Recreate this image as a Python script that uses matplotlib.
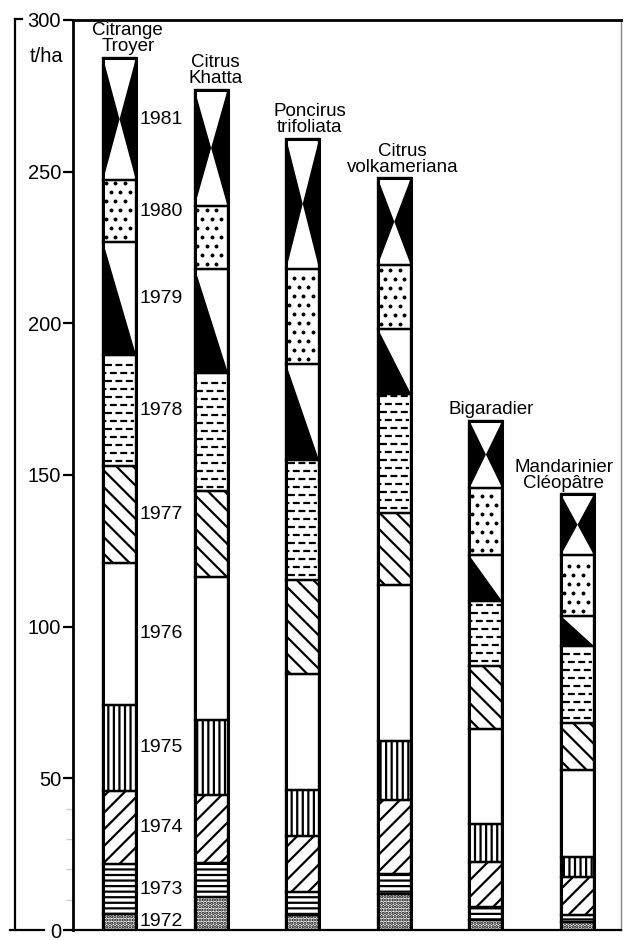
import matplotlib.pyplot as plt
import numpy as np
from matplotlib.lines import Line2D

plt.rcParams['font.family'] = ['Liberation Sans', 'DejaVu Sans']
plt.rcParams['hatch.linewidth'] = 1.6
plt.rcParams['lines.scale_dashes'] = False

# porte-greffes (rootstocks)
rootstocks = ['Citrange\nTroyer', 'Citrus\nKhatta', 'Poncirus\ntrifoliata',
              'Citrus\nvolkameriana', 'Bigaradier', 'Mandarinier\nCléopâtre']
years = [1972, 1973, 1974, 1975, 1976, 1977, 1978, 1979, 1980, 1981]

# récolte annuelle en t/ha, 1972 -> 1981
troyer = [5.3, 16.4, 24.0, 28.6, 46.6, 32.2, 36.5, 37.1, 20.4, 40.4]
khatta = [10.8, 11.2, 22.4, 24.9, 47.0, 28.3, 39.1, 34.2, 20.7, 38.4]
poncirus = [4.9, 7.6, 18.4, 15.1, 38.5, 30.8, 39.8, 31.6, 31.2, 43.0]
volkameriana = [11.8, 6.6, 24.3, 19.7, 51.3, 23.7, 39.4, 21.4, 21.0, 28.6]
bigaradier = [3.3, 4.3, 14.7, 12.5, 31.3, 21.0, 21.3, 15.2, 22.0, 22.3]
cleopatre = [2.6, 2.3, 12.5, 6.6, 28.9, 15.5, 25.3, 9.8, 20.1, 20.0]

yticks = [0, 50, 100, 150, 200, 250, 300]

# motif de chaque année
patterns = {1972: 'stipple', 1973: 'hlines', 1974: 'fwd', 1975: 'vlines',
            1976: 'blank', 1977: 'back', 1978: 'dash', 1979: 'wedge',
            1980: 'dots', 1981: 'hourglass'}
hatches = {'stipple': '.....', 'hlines': '---', 'fwd': '//', 'vlines': '|||',
           'back': '\\\\'}

Y0 = 930   # pixel du zéro
Y300 = 20  # pixel du 300

fig = plt.figure(figsize=(6.25, 9.4), dpi=100)
ax = fig.add_axes([73 / 625, 1 - Y0 / 940, (621 - 73) / 625, (Y0 - Y300) / 940])
ax.set_xlim(-0.508, 5.475)
ax.set_ylim(0, 300)

W = 0.36
px_x = 91.6   # pixels par unité x
px_y = (Y0 - Y300) / 300.0


def draw_dots(x0, x1, y0, y1):
    sx = 9.5 / px_x
    sy = 9.0 / px_y
    rows = np.arange(y0 + 0.55 * sy, y1 - 0.3 * sy, sy)
    xs_all, ys_all = [], []
    for k, yy in enumerate(rows):
        start = x0 + (0.3 if k % 2 == 0 else 0.8) * sx
        xs = np.arange(start, x1 - 0.2 * sx, sx)
        xs_all.extend(xs)
        ys_all.extend([yy] * len(xs))
    ax.scatter(xs_all, ys_all, s=8, color='black', zorder=3, linewidths=0)


def draw_dashes(x0, x1, y0, y1):
    sy = 8.0 / px_y
    rows = np.arange(y0 + 0.6 * sy, y1 - 0.3 * sy, sy)
    for k, yy in enumerate(rows):
        off = 0 if k % 2 == 0 else 4
        ax.plot([x0 + 0.02, x1 - 0.02], [yy, yy], color='black', lw=1.6,
                ls=(off, (5, 2.5)), solid_capstyle='butt', zorder=3)


series = [troyer, khatta, poncirus, volkameriana, bigaradier, cleopatre]
name_shift = [6, 3, 5, 6, 4, -10]

for i, vals in enumerate(series):
    bottoms = np.concatenate([[0], np.cumsum(vals)[:-1]])
    x0, x1 = i - W / 2, i + W / 2
    for yr, v, b in zip(years, vals, bottoms):
        kind = patterns[yr]
        ax.bar(i, v, bottom=b, width=W, color='white', edgecolor='black',
               lw=1.5, hatch=hatches.get(kind), zorder=2)
        top = b + v
        if kind == 'hourglass':
            mid = b + v / 2
            ax.fill([x0, x0, i], [b, top, mid], color='black', zorder=3, lw=0)
            ax.fill([x1, x1, i], [b, top, mid], color='black', zorder=3, lw=0)
        elif kind == 'wedge':
            ax.fill([x0, x0, x1], [top, b, b], color='black', zorder=3, lw=0)
        elif kind == 'dots':
            draw_dots(x0, x1, b, top)
        elif kind == 'dash':
            draw_dashes(x0, x1, b, top)
    # contours
    ax.bar(i, vals, bottom=bottoms, width=W, fill=False, edgecolor='black',
           lw=1.6, zorder=4)
    ax.bar(i, sum(vals), width=W, fill=False, edgecolor='black', lw=2.2, zorder=5)
    ax.annotate(rootstocks[i], (i, sum(vals)), xytext=(name_shift[i], 2),
                textcoords='offset points', ha='center', va='bottom',
                fontsize=13.5, linespacing=0.9)

# années à droite de la première colonne
b0 = np.concatenate([[0], np.cumsum(troyer)[:-1]])
for yr, v, b in zip(years, troyer, b0):
    ax.text(W / 2 + 0.035, b + v / 2, str(yr), ha='left', va='center',
            fontsize=14)

ax.set_xticks([])
ax.set_yticks(yticks)
ax.set_yticklabels([str(t) for t in yticks])
ax.set_yticks([10, 20, 30, 40], minor=True)
ax.tick_params(axis='y', which='major', length=7, width=1.6, pad=1.5,
               labelsize=14.5, direction='out')
ax.tick_params(axis='y', which='minor', length=5, width=1, color='#cfcfcf')

ax.spines['left'].set_linewidth(2)
ax.spines['top'].set_linewidth(2)
ax.spines['bottom'].set_linewidth(1.6)
ax.spines['right'].set_linewidth(1)
ax.spines['right'].set_color('#888888')

fig.text(47 / 625, 1 - 56 / 940, 't/ha', ha='center', va='center', fontsize=14.5)

# cadre à gauche
fig.add_artist(Line2D([15 / 625, 15 / 625], [1 - Y0 / 940, 1 - 19 / 940],
                      color='black', lw=1.6))
fig.add_artist(Line2D([15 / 625, 22 / 625], [1 - 19 / 940, 1 - 19 / 940],
                      color='black', lw=1.6))
fig.add_artist(Line2D([10 / 625, 44 / 625], [1 - Y0 / 940, 1 - Y0 / 940],
                      color='black', lw=1.6))

plt.savefig('out.png', dpi=100)
